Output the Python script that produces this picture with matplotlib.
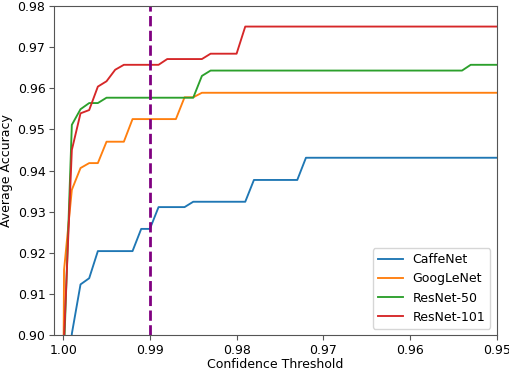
import matplotlib
matplotlib.use("Agg")
import matplotlib.pyplot as plt

thresholds = [1.000, 0.9999, 0.999, 0.998, 0.997, 0.996, 0.995, 0.994, 0.993, 0.992, 0.991,
              0.990, 0.989, 0.988, 0.987, 0.986, 0.985, 0.984, 0.983, 0.982, 0.981,
              0.980, 0.979, 0.978, 0.977, 0.976, 0.975, 0.974, 0.973, 0.972, 0.971,
              0.970, 0.969, 0.968, 0.967, 0.966, 0.965, 0.964, 0.963, 0.962, 0.961,
              0.960, 0.959, 0.958, 0.957, 0.956, 0.955, 0.954, 0.953, 0.952, 0.951,
              0.950]

caffenet = [0.800, 0.850, 0.9003, 0.9123, 0.9138, 0.9204, 0.9204, 0.9204, 0.9204, 0.9204, 0.9258,
            0.9258, 0.9311, 0.9311, 0.9311, 0.9311, 0.9324, 0.9324, 0.9324, 0.9324, 0.9324,
            0.9324, 0.9324, 0.9377, 0.9377, 0.9377, 0.9377, 0.9377, 0.9377, 0.9431, 0.9431,
            0.9431, 0.9431, 0.9431, 0.9431, 0.9431, 0.9431, 0.9431, 0.9431, 0.9431, 0.9431,
            0.9431, 0.9431, 0.9431, 0.9431, 0.9431, 0.9431, 0.9431, 0.9431, 0.9431, 0.9431,
            0.9431]

googlenet = [0.880, 0.9158, 0.9353, 0.9406, 0.9418, 0.9418, 0.9470, 0.9470, 0.9470, 0.9525, 0.9525,
             0.9525, 0.9525, 0.9525, 0.9525, 0.9578, 0.9578, 0.9589, 0.9589, 0.9589, 0.9589,
             0.9589, 0.9589, 0.9589, 0.9589, 0.9589, 0.9589, 0.9589, 0.9589, 0.9589, 0.9589,
             0.9589, 0.9589, 0.9589, 0.9589, 0.9589, 0.9589, 0.9589, 0.9589, 0.9589, 0.9589,
             0.9589, 0.9589, 0.9589, 0.9589, 0.9589, 0.9589, 0.9589, 0.9589, 0.9589, 0.9589,
             0.9589]

resnet50 = [0.880, 0.896, 0.9511, 0.9549, 0.9564, 0.9564, 0.9577, 0.9577, 0.9577, 0.9577, 0.9577,
            0.9577, 0.9577, 0.9577, 0.9577, 0.9577, 0.9577, 0.9630, 0.9643, 0.9643, 0.9643,
            0.9643, 0.9643, 0.9643, 0.9643, 0.9643, 0.9643, 0.9643, 0.9643, 0.9643, 0.9643,
            0.9643, 0.9643, 0.9643, 0.9643, 0.9643, 0.9643, 0.9643, 0.9643, 0.9643, 0.9643,
            0.9643, 0.9643, 0.9643, 0.9643, 0.9643, 0.9643, 0.9643, 0.9657, 0.9657, 0.9657,
            0.9657]

resnet101 = [0.885, 0.899, 0.9450, 0.9539, 0.9547, 0.9604, 0.9617, 0.9645, 0.9657, 0.9657, 0.9657,
             0.9657, 0.9657, 0.9671, 0.9671, 0.9671, 0.9671, 0.9671, 0.9684, 0.9684, 0.9684,
             0.9684, 0.9750, 0.9750, 0.9750, 0.9750, 0.9750, 0.9750, 0.9750, 0.9750, 0.9750,
             0.9750, 0.9750, 0.9750, 0.9750, 0.9750, 0.9750, 0.9750, 0.9750, 0.9750, 0.9750,
             0.9750, 0.9750, 0.9750, 0.9750, 0.9750, 0.9750, 0.9750, 0.9750, 0.9750, 0.9750,
             0.9750]

series_names = ["CaffeNet", "GoogLeNet", "ResNet-50", "ResNet-101"]
series_values = [caffenet, googlenet, resnet50, resnet101]
marker_threshold = 0.99

x_ticks = [1.00, 0.99, 0.98, 0.97, 0.96, 0.95]
y_ticks = [0.90, 0.91, 0.92, 0.93, 0.94, 0.95, 0.96, 0.97, 0.98]

plt.rcParams['font.family'] = ['DejaVu Sans']
plt.rcParams['font.size'] = 9
plt.rcParams['axes.edgecolor'] = '#555555'
plt.rcParams['xtick.color'] = '#555555'
plt.rcParams['ytick.color'] = '#555555'
plt.rcParams['xtick.labelcolor'] = 'black'
plt.rcParams['ytick.labelcolor'] = 'black'

fig = plt.figure(figsize=(5.1, 3.71), dpi=100)
ax = fig.add_axes([54.5/510, 1 - 335/371, (496.7 - 54.5)/510, (335 - 6)/371])

for name, vals in zip(series_names, series_values):
    ax.plot(thresholds, vals, label=name, linewidth=1.35)

ax.axvline(marker_threshold, color='purple', linestyle='--', linewidth=2.0)

ax.set_xlim(1.001, 0.95)
ax.set_ylim(0.90, 0.98)
ax.set_xticks(x_ticks)
ax.set_xticklabels([f"{t:.2f}" for t in x_ticks])
ax.set_yticks(y_ticks)
ax.set_yticklabels([f"{t:.2f}" for t in y_ticks])
ax.tick_params(length=3.5, width=0.8, pad=3)
ax.set_xlabel("Confidence Threshold", labelpad=1)
ax.set_ylabel("Average Accuracy", labelpad=3)
ax.legend(loc='lower right')

fig.savefig("out.png", dpi=100)
